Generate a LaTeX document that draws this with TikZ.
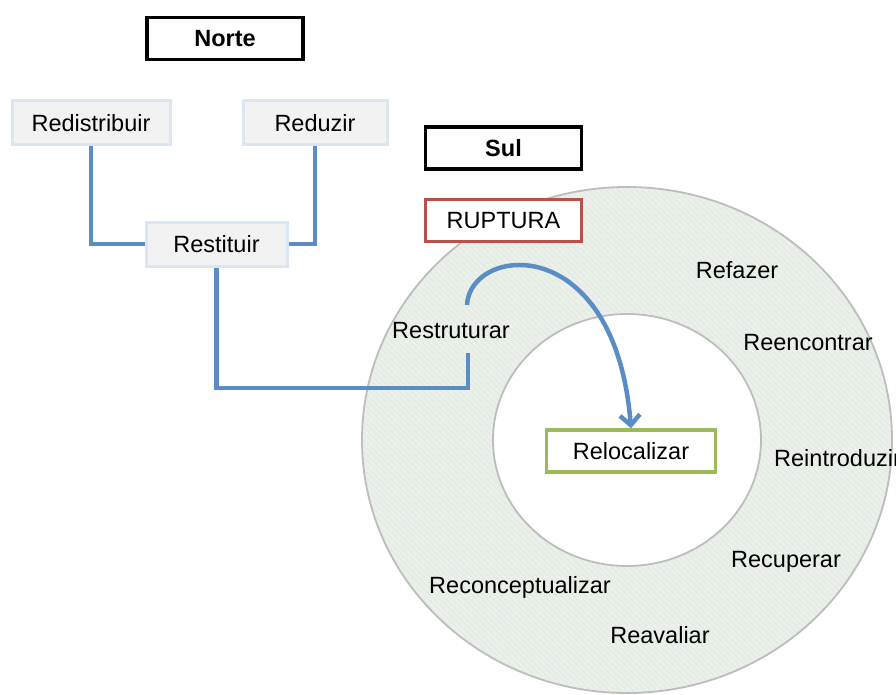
\documentclass[tikz,border=0pt]{standalone}
\usepackage{fontspec}
\setmainfont{Liberation Sans}
\usetikzlibrary{arrows.meta,patterns.meta}
\definecolor{linkblue}{HTML}{5A8DC6}
\definecolor{ringbg}{HTML}{ECF1E5}
\definecolor{ringline}{HTML}{E2E9EE}
\definecolor{ringedge}{HTML}{BDBDBD}
\definecolor{boxfill}{HTML}{F2F2F2}
\definecolor{boxedge}{HTML}{DCE6F2}
\definecolor{ruptred}{HTML}{B8504B}
\definecolor{relgreen}{HTML}{9BBB59}
\begin{document}
\begin{tikzpicture}[x=1pt,y=-1pt,
  every node/.style={font=\fontsize{23.5}{27}\selectfont},
  headbox/.style={draw=black,line width=3.5pt,fill=white,minimum width=156pt,minimum height=42pt,inner sep=0pt,font=\fontsize{23.5}{27}\selectfont\bfseries},
  graybox/.style={draw=boxedge,line width=3pt,fill=boxfill,minimum height=44pt,inner sep=0pt},
  colbox/.style={line width=3.5pt,fill=white,minimum height=42pt,inner sep=0pt},
  word/.style={inner sep=0pt},
  link/.style={draw=linkblue,line width=4.5pt}]
\useasboundingbox (0,0) rectangle (896,695);
% ring
\coordinate (c) at (627,440);
\fill[ringbg,even odd rule] (c) ellipse [x radius=265pt,y radius=253pt] (c) ellipse [x radius=134pt,y radius=126pt];
\fill[pattern={Lines[angle=-45,distance=4pt,line width=1.4pt]},pattern color=ringline,even odd rule] (c) ellipse [x radius=265pt,y radius=253pt] (c) ellipse [x radius=134pt,y radius=126pt];
\draw[ringedge,line width=1.8pt] (c) ellipse [x radius=265pt,y radius=253pt];
\draw[ringedge,line width=1.8pt] (c) ellipse [x radius=134pt,y radius=126pt];
% nodes
\node[headbox] (norte) at (225,38.5) {Norte};
\node[headbox] (sul) at (503.5,148) {Sul};
\node[colbox,draw=ruptred,minimum width=156pt] (rup) at (503.5,220.5) {RUPTURA};
\node[graybox,minimum width=158pt] (rd) at (91,123) {Redistribuir};
\node[graybox,minimum width=144pt] (rz) at (315,123) {Reduzir};
\node[graybox,minimum width=141pt] (rs) at (216.5,244) {Restituir};
\node[colbox,draw=relgreen,minimum width=169pt] (rl) at (631,451) {Relocalizar};
\node[word] (rt) at (451,331) {Restruturar};
\node[word] (rf) at (737,270) {Refazer};
\node[word] (re) at (808,343) {Reencontrar};
\node[word,anchor=west] (ri) at (774,458) {Reintroduzir};
\node[word] (rc) at (786,562) {Recuperar};
\node[word] (rk) at (520,587) {Reconceptualizar};
\node[word] (ra) at (660,635) {Reavaliar};
% connectors
\coordinate (rtin) at (468,353);
\coordinate (rtout) at (467,305);
\coordinate (bend) at (468,388);
\draw[link] (rd.south) |- (rs.west);
\draw[link] (rz.south) |- (rs.east);
\draw[link] (rs.south) |- (bend) -- (rtin);
\draw[link,-{Straight Barb[length=10pt,width=20pt]}] (rtout) .. controls (470,245) and (615,230) .. (rl.north);
\end{tikzpicture}
\end{document}
